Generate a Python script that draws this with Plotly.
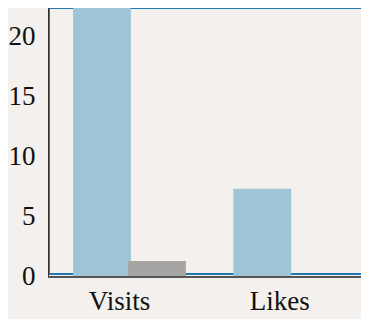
import plotly.graph_objects as go

categories = ["Visits", "Likes"]
series_a = [23.0, 7.25]
series_b = [1.25, 0.0]
y_ticks = [0, 5, 10, 15, 20]

fig = go.Figure()
fig.add_trace(go.Bar(x=categories, y=series_a, marker=dict(color="#a0c4d7", line=dict(width=0)),
                     width=0.361, offset=-0.29))
fig.add_trace(go.Bar(x=categories, y=series_b, marker=dict(color="#a6a5a3", line=dict(width=0)),
                     width=0.361, offset=0.053))

fig.add_shape(type="rect", xref="paper", yref="paper", x0=0, x1=0.997, y0=0.0075, y1=1,
              line=dict(color="#2077b2", width=2), layer="below")

fig.update_layout(
    width=361, height=311,
    margin=dict(l=41, r=1, t=0, b=42.5),
    paper_bgcolor="#f3f0ed", plot_bgcolor="#f3f0ed",
    showlegend=False,
    barmode="group",
    font=dict(family="Liberation Serif", size=27, color="#111"),
    xaxis=dict(range=[-0.44, 1.55], showgrid=False, zeroline=False, showline=True,
               linecolor="#555", linewidth=2, ticks="", tickfont=dict(size=27),
               automargin=False, ticklabelstandoff=0),
    yaxis=dict(range=[0, 22.3], tickvals=y_ticks, showgrid=False, zeroline=False,
               showline=True, linecolor="#333", linewidth=1, ticks="", ticklabelstandoff=7,
               tickfont=dict(size=27), automargin=False),
)

fig.write_html("out.html")
